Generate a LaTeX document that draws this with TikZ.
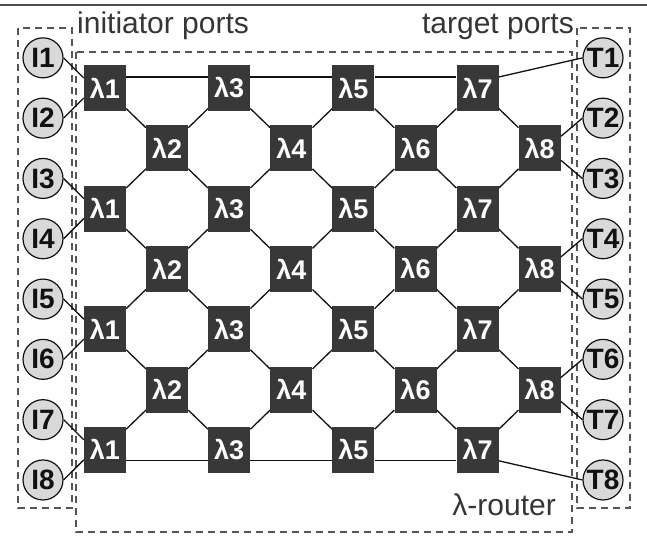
\documentclass[tikz,border=0pt]{standalone}
\usepackage{fontspec}
\setmainfont{Liberation Sans}
\usetikzlibrary{positioning}
\definecolor{ink}{HTML}{111111}
\definecolor{router}{HTML}{383838}
\definecolor{portfill}{HTML}{D9D9D9}
\definecolor{frame}{HTML}{555555}
\tikzset{
  rbox/.style={fill=router, minimum width=42pt, minimum height=46pt, inner sep=0pt,
               text=white, font=\fontsize{27}{27}\selectfont\bfseries},
  port/.style={circle, draw=ink, fill=portfill, line width=1.2pt, minimum size=40pt,
               inner sep=0pt, font=\fontsize{28}{28}\selectfont\bfseries, text=ink},
  grp/.style={draw=frame, dash pattern=on 7pt off 5pt, line width=1.4pt},
  wire/.style={draw=ink, line width=1.3pt},
  lbl/.style={font=\fontsize{30}{30}\selectfont, text=ink!85, anchor=base west, inner sep=0pt},
}

\begin{document}
\begin{tikzpicture}[x=1pt, y=-1pt]
    \useasboundingbox (0,0) rectangle (647,538);
    \draw[line width=2pt, draw=ink!75] (0,5) -- (647,5);

    % port groups and the router
    \draw[grp] (18,28) rectangle (72,508);
    \draw[grp] (76,52) rectangle (572,532);
    \draw[grp] (577,28) rectangle (630,508);
    \node[lbl] (ini) at (77,33) {initiator ports};
    \node[lbl, anchor=base east] (tgt) at (574,33) {target ports};
    \node[lbl, anchor=base east] (rtr) at (556,515) {λ-router};

    % routers: odd wavelengths on even rows, even ones in between
    \foreach \c in {0,2,4,6} \foreach \r in {0,2,4,6} {
      \pgfmathtruncatemacro\lam{\c+1}
      \node[rbox] (r\c-\r) at ({105+62.1*\c}, {88+60.3*\r}) {λ\lam};
    }
    \foreach \c in {1,3,5,7} \foreach \r in {1,3,5} {
      \pgfmathtruncatemacro\lam{\c+1}
      \node[rbox] (r\c-\r) at ({105+62.1*\c}, {88+60.3*\r}) {λ\lam};
    }

    % ports
    \foreach \k in {1,...,8} {
      \node[port] (I\k) at (43, {88+60.3*(\k-1.5)}) {I\k};
      \node[port] (T\k) at (603, {88+60.3*(\k-1.5)}) {T\k};
    }

    % diagonal links
    \foreach \c in {1,3,5,7} \foreach \r in {1,3,5} {
      \pgfmathtruncatemacro\ccl{\c-1}
      \pgfmathtruncatemacro\ccr{\c+1}
      \pgfmathtruncatemacro\rup{\r-1}
      \pgfmathtruncatemacro\rdn{\r+1}
      \draw[wire] (r\ccl-\rup) -- (r\c-\r) -- (r\ccl-\rdn);
      \ifnum\c<7 \draw[wire] (r\ccr-\rup) -- (r\c-\r) -- (r\ccr-\rdn); \fi
    }

    % top and bottom rows
    \foreach \a/\b in {0/2, 2/4, 4/6} {
      \draw[wire] ([yshift=11pt]r\a-0.east) -- ([yshift=11pt]r\b-0.west);
      \draw[wire] ([yshift=-11pt]r\a-6.east) -- ([yshift=-11pt]r\b-6.west);
    }

    % initiators into the first column
    \foreach \a/\b/\r in {1/2/0, 3/4/2, 5/6/4, 7/8/6} {
      \draw[wire] (I\a.east) -- ([yshift=10pt]r0-\r.west);
      \draw[wire] (I\b.east) -- ([yshift=-10pt]r0-\r.west);
    }

    % targets
    \draw[wire] ([yshift=11pt]r6-0.east) -- (T1.west);
    \draw[wire] ([yshift=-11pt]r6-6.east) -- (T8.west);
    \foreach \a/\b/\r in {2/3/1, 4/5/3, 6/7/5} {
      \draw[wire] ([yshift=12pt]r7-\r.east) -- (T\a.west);
      \draw[wire] ([yshift=-12pt]r7-\r.east) -- (T\b.west);
    }
\end{tikzpicture}
\end{document}
